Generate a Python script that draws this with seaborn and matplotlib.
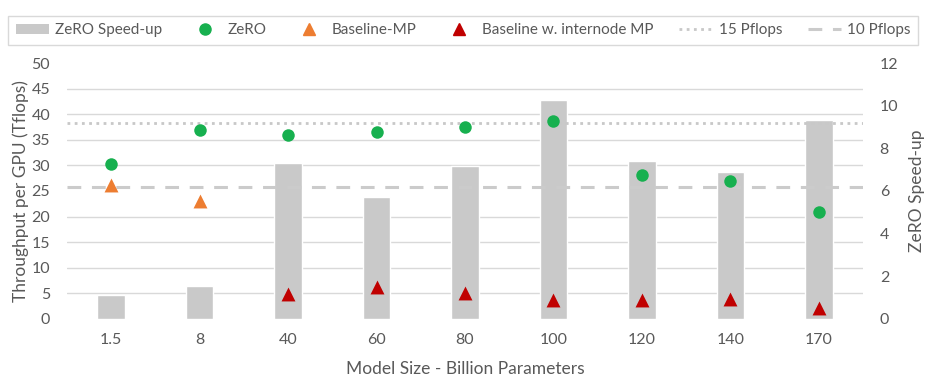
import numpy as np
import pandas as pd
import seaborn as sns
import matplotlib.pyplot as plt
from matplotlib.lines import Line2D
from matplotlib.patches import Patch

# data
model_sizes = ["1.5", "8", "40", "60", "80", "100", "120", "140", "170"]
zero_speedup = [1.13, 1.56, 7.3, 5.74, 7.18, 10.25, 7.42, 6.9, 9.33]
zero_tflops = [30.3, 37.0, 35.9, 36.5, 37.6, 38.7, 28.1, 26.9, 20.9]
baseline_mp_sizes = ["1.5", "8"]
baseline_mp_tflops = [26.2, 23.0]
internode_sizes = ["40", "60", "80", "100", "120", "140", "170"]
internode_tflops = [4.8, 6.2, 5.0, 3.65, 3.7, 3.8, 2.15]
pflops_15 = 38.2
pflops_10 = 25.8

TEXT = "#595959"
sns.set_theme(style="white")
plt.rcParams["font.family"] = ["Lato", "DejaVu Sans"]
plt.rcParams["text.color"] = TEXT
plt.rcParams["axes.labelcolor"] = TEXT
plt.rcParams["xtick.color"] = TEXT
plt.rcParams["ytick.color"] = TEXT

fig = plt.figure(figsize=(9.29, 3.87), dpi=100)
ax1 = fig.add_axes([0.072, 0.176, 0.857, 0.661])
ax2 = ax1.twinx()

bars_df = pd.DataFrame({"size": model_sizes, "speedup": zero_speedup})
sns.barplot(data=bars_df, x="size", y="speedup", order=model_sizes, ax=ax2,
            color="#C9C9C9", saturation=1, width=0.31, zorder=1)
ax2.set_ylim(0, 12)
ax2.set_yticks(np.arange(0, 13, 2))
ax2.set_yticks(np.linspace(0, 12, 11), minor=True)
ax2.grid(which="minor", axis="y", color="#D9D9D9", lw=1, zorder=0)
ax2.set_axisbelow(True)
ax2.set_ylabel("ZeRO Speed-up", fontsize=12.5, labelpad=8)
ax2.tick_params(axis="y", which="both", length=0, labelsize=11.5, pad=12)

ax1.set_zorder(ax2.get_zorder() + 1)
ax1.patch.set_visible(False)

zero_df = pd.DataFrame({"size": model_sizes, "tflops": zero_tflops})
mp_df = pd.DataFrame({"size": baseline_mp_sizes, "tflops": baseline_mp_tflops})
inter_df = pd.DataFrame({"size": internode_sizes, "tflops": internode_tflops})

ax1.axhline(pflops_15, color="#C8C8C8", lw=2, ls=(0, (1, 1.6)), zorder=2)
ax1.axhline(pflops_10, color="#CBCBCB", lw=2.2, ls=(0, (4.5, 3.5)), zorder=2)

sns.stripplot(data=zero_df, x="size", y="tflops", order=model_sizes, ax=ax1,
              jitter=False, color="#17B04F", marker="o", size=9, zorder=3)
sns.stripplot(data=mp_df, x="size", y="tflops", order=model_sizes, ax=ax1,
              jitter=False, color="#ED7D31", marker="^", size=10, zorder=3)
sns.stripplot(data=inter_df, x="size", y="tflops", order=model_sizes, ax=ax1,
              jitter=False, color="#C00000", marker="^", size=10, zorder=3)

ax1.set_xlim(-0.5, len(model_sizes) - 0.5)
ax1.set_ylim(0, 50)
ax1.set_yticks(np.arange(0, 51, 5))
ax1.set_ylabel("Throughput per GPU (Tflops)", fontsize=12.5, labelpad=2)
ax1.set_xlabel("Model Size - Billion Parameters", fontsize=12.5, labelpad=10)
ax1.tick_params(axis="both", length=0, labelsize=11.5)
ax1.tick_params(axis="y", pad=12)
ax1.tick_params(axis="x", pad=10)
for ax in (ax1, ax2):
    for s in ax.spines.values():
        s.set_visible(False)

handles = [
    Patch(facecolor="#C9C9C9", edgecolor="none"),
    Line2D([], [], ls="none", marker="o", color="#17B04F", markersize=8),
    Line2D([], [], ls="none", marker="^", color="#ED7D31", markersize=8),
    Line2D([], [], ls="none", marker="^", color="#C00000", markersize=8),
    Line2D([], [], color="#C8C8C8", lw=2, ls=(0, (1, 1.6))),
    Line2D([], [], color="#CBCBCB", lw=2.2, ls=(0, (4.5, 3.5))),
]
labels = ["ZeRO Speed-up", "ZeRO", "Baseline-MP", "Baseline w. internode MP",
          "15 Pflops", "10 Pflops"]
leg = fig.legend(handles, labels, ncol=6, loc="lower left",
                 bbox_to_anchor=(0.0086, 0.884, 0.98, 0.069), mode="expand",
                 frameon=True, fancybox=False, fontsize=11, handlelength=2.2,
                 handletextpad=0.4, borderaxespad=0, borderpad=0.5)
leg.get_frame().set_edgecolor("#D0D0D0")
leg.get_frame().set_linewidth(1)
leg._legend_box.align = "center"

fig.savefig("out.png", dpi=100)
